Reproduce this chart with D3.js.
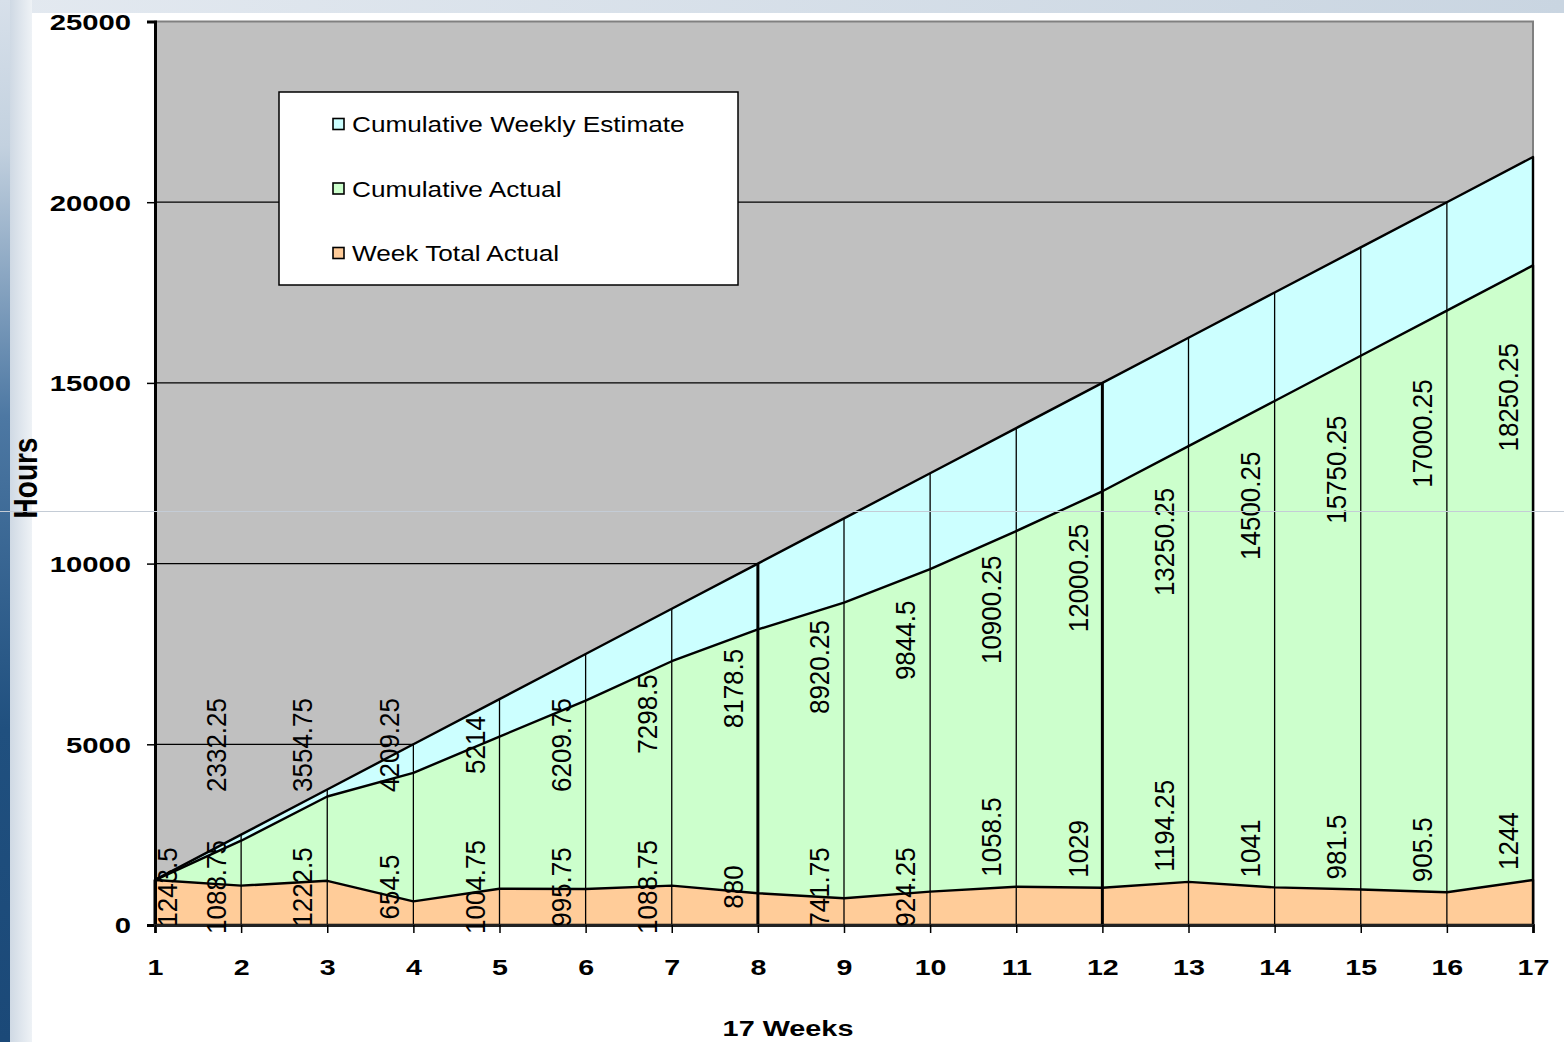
<!DOCTYPE html>
<html>
<head>
<meta charset="utf-8">
<title>Cumulative Hours by Week</title>
<script src="https://cdn.jsdelivr.net/npm/d3@7"></script>
<style>
  html, body { margin: 0; padding: 0; background: #ffffff; }
  svg { display: block; font-family: "Liberation Sans", Arial, sans-serif; }
</style>
</head>
<body>
<svg id="chart" width="1564" height="1042"></svg>
<script>
// ---- data ----
const weeks = [1, 2, 3, 4, 5, 6, 7, 8, 9, 10, 11, 12, 13, 14, 15, 16, 17];
const cumulativeWeeklyEstimate = [1250, 2500, 3750, 5000, 6250, 7500, 8750, 10000, 11250,
  12500, 13750, 15000, 16250, 17500, 18750, 20000, 21250];
const cumulativeActual = [1243.5, 2332.25, 3554.75, 4209.25, 5214, 6209.75, 7298.5, 8178.5,
  8920.25, 9844.5, 10900.25, 12000.25, 13250.25, 14500.25, 15750.25, 17000.25, 18250.25];
const weekTotalActual = [1243.5, 1088.75, 1222.5, 654.5, 1004.75, 995.75, 1088.75, 880,
  741.75, 924.25, 1058.5, 1029, 1194.25, 1041, 981.5, 905.5, 1244];
const hourTicks = [0, 5000, 10000, 15000, 20000, 25000];
const seriesNames = ["Cumulative Weekly Estimate", "Cumulative Actual", "Week Total Actual"];
const seriesColors = ["#ccffff", "#ccffcc", "#ffcc99"];

// ---- layout ----
const plot = { left: 155, right: 1533, top: 21.5, bottom: 925 };
const svg = d3.select("#chart");

const x = d3.scaleLinear().domain([1, 17]).range([plot.left, plot.right]);
const y = d3.scaleLinear().domain([0, 25000]).range([plot.bottom, plot.top]);

// ---- slide background ----
const defs = svg.append("defs");
const edge = defs.append("linearGradient").attr("id", "edgeBlue")
  .attr("x1", 0).attr("y1", 0).attr("x2", 0).attr("y2", 1);
[["0%", "#d7e0ea"], ["14%", "#c3d1df"], ["40%", "#4d78a3"], ["70%", "#20507f"], ["100%", "#1b4978"]]
  .forEach(([o, c]) => edge.append("stop").attr("offset", o).attr("stop-color", c));
const edgeSoft = defs.append("linearGradient").attr("id", "edgeSoft")
  .attr("x1", 0).attr("y1", 0).attr("x2", 1).attr("y2", 0);
[["0%", "#cfd9e4"], ["100%", "#eef2f6"]]
  .forEach(([o, c]) => edgeSoft.append("stop").attr("offset", o).attr("stop-color", c));
const topBand = defs.append("linearGradient").attr("id", "topBand")
  .attr("x1", 0).attr("y1", 0).attr("x2", 1).attr("y2", 0);
[["0%", "#e3e9f0"], ["100%", "#c9d5e1"]]
  .forEach(([o, c]) => topBand.append("stop").attr("offset", o).attr("stop-color", c));

svg.append("rect").attr("x", 0).attr("y", 0).attr("width", 1564).attr("height", 13)
  .attr("fill", "url(#topBand)");
svg.append("rect").attr("x", 10).attr("y", 0).attr("width", 22).attr("height", 1042)
  .attr("fill", "url(#edgeSoft)");
svg.append("rect").attr("x", 0).attr("y", 0).attr("width", 10).attr("height", 1042)
  .attr("fill", "url(#edgeBlue)");

// ---- plot area ----
svg.append("rect")
  .attr("x", plot.left).attr("y", plot.top)
  .attr("width", plot.right - plot.left).attr("height", plot.bottom - plot.top)
  .attr("fill", "#c0c0c0").attr("stroke", "#808080").attr("stroke-width", 2);

// horizontal gridlines (behind the areas)
svg.append("g").selectAll("line")
  .data(hourTicks.filter(t => t > 0 && t < 25000))
  .join("line")
  .attr("x1", plot.left).attr("x2", plot.right)
  .attr("y1", d => y(d)).attr("y2", d => y(d))
  .attr("stroke", "#000").attr("stroke-width", 1.2);

// overlapping areas, largest first
const areaGen = d3.area()
  .x((d, i) => x(weeks[i]))
  .y0(y(0))
  .y1(d => y(d));

const seriesValues = [cumulativeWeeklyEstimate, cumulativeActual, weekTotalActual];
svg.append("g").selectAll("path")
  .data(seriesValues)
  .join("path")
  .attr("d", d => areaGen(d))
  .attr("fill", (d, i) => seriesColors[i])
  .attr("stroke", "#000").attr("stroke-width", 2.4)
  .attr("stroke-linejoin", "round");

// drop lines from the axis to the estimate at every week
const heavyDropWeeks = [8, 12];
svg.append("g").selectAll("line")
  .data(weeks)
  .join("line")
  .attr("x1", d => x(d)).attr("x2", d => x(d))
  .attr("y1", y(0))
  .attr("y2", (d, i) => y(cumulativeWeeklyEstimate[i]))
  .attr("stroke", "#000")
  .attr("stroke-width", d => heavyDropWeeks.includes(d) ? 3 : 1.3);

// ---- axes ----
const yAxis = svg.append("g")
  .attr("transform", `translate(${plot.left},0)`)
  .call(d3.axisLeft(y).tickValues(hourTicks).tickSize(8).tickFormat(d3.format("d")));
yAxis.select(".domain").attr("stroke", "#000").attr("stroke-width", 3);
yAxis.selectAll(".tick line").attr("stroke", "#000").attr("stroke-width", 1.5);
yAxis.selectAll(".tick text")
  .attr("x", 0).attr("dy", "0.36em")
  .attr("text-anchor", "end")
  .attr("transform", "translate(-24,0) scale(1.33,1)")
  .attr("font-size", 22).attr("font-weight", "bold")
  .attr("font-family", "'Liberation Sans', Arial, sans-serif")
  .attr("fill", "#000");

const xAxis = svg.append("g")
  .attr("transform", `translate(0,${plot.bottom})`)
  .call(d3.axisBottom(x).tickValues(weeks).tickSize(8).tickFormat(d3.format("d")));
xAxis.select(".domain").attr("stroke", "#222").attr("stroke-width", 3);
xAxis.selectAll(".tick line").attr("stroke", "#000").attr("stroke-width", 1.5);
xAxis.selectAll(".tick text")
  .attr("y", 0).attr("dy", 0)
  .attr("transform", "translate(0,50) scale(1.3,1)")
  .attr("font-size", 22).attr("font-weight", "bold")
  .attr("font-family", "'Liberation Sans', Arial, sans-serif")
  .attr("fill", "#000");

// axis titles
svg.append("text")
  .attr("transform", "translate(26,478) scale(1.2,1) rotate(-90)")
  .attr("text-anchor", "middle").attr("dominant-baseline", "central")
  .attr("font-size", 28).attr("font-weight", "bold").attr("fill", "#000")
  .text("Hours");
svg.append("text")
  .attr("transform", "translate(788,1036) scale(1.31,1)")
  .attr("text-anchor", "middle")
  .attr("font-size", 22).attr("font-weight", "bold").attr("fill", "#000")
  .text("17 Weeks");

// ---- value labels (rotated) ----
const labelDx = -24;
const labelMinX = plot.left + 13;  // keep labels inside the plot
const labelFloorY = 745;           // cumulative labels stay above this line
const liftFromWeek = 11;           // weekly labels from here on sit above the orange line
const fmt = v => String(v);
const labelX = i => Math.max(x(weeks[i]) + labelDx, labelMinX);

svg.append("g").selectAll("text")
  .data(cumulativeActual)
  .join("text")
  .attr("transform", (d, i) => {
    const cy = Math.min(y(d * 0.8), labelFloorY);
    return `translate(${labelX(i)},${cy}) scale(1.05,1) rotate(-90)`;
  })
  .attr("text-anchor", "middle").attr("dominant-baseline", "central")
  .attr("font-size", 26).attr("fill", "#000")
  .text((d, i) => i === 0 ? "" : fmt(d));

svg.append("g").selectAll("text")
  .data(weekTotalActual)
  .join("text")
  .attr("transform", (d, i) => {
    const lifted = weeks[i] >= liftFromWeek;
    const cy = lifted ? y(d) - 10 : y(0) - 38;
    return `translate(${labelX(i)},${cy}) scale(1.05,1) rotate(-90)`;
  })
  .attr("text-anchor", (d, i) => weeks[i] >= liftFromWeek ? "start" : "middle")
  .attr("dominant-baseline", "central")
  .attr("font-size", 26).attr("fill", "#000")
  .text(d => fmt(d));

// ---- legend ----
const legend = svg.append("g").attr("transform", "translate(279,92)");
legend.append("rect")
  .attr("width", 459).attr("height", 193)
  .attr("fill", "#fff").attr("stroke", "#000").attr("stroke-width", 1.5);
const rows = legend.selectAll("g.row")
  .data(seriesNames)
  .join("g").attr("class", "row")
  .attr("transform", (d, i) => `translate(54,${32 + i * 64.5})`);
rows.append("rect")
  .attr("x", 0).attr("y", -5.5).attr("width", 11).attr("height", 11)
  .attr("fill", (d, i) => seriesColors[i])
  .attr("stroke", "#000").attr("stroke-width", 1.6);
rows.append("text")
  .attr("transform", "translate(19,8) scale(1.19,1)")
  .attr("font-size", 22).attr("fill", "#000")
  .text(d => d);

// faint slide rule across the page
svg.append("line")
  .attr("x1", 0).attr("x2", 1564).attr("y1", 511.5).attr("y2", 511.5)
  .attr("stroke", "#c4ccd6").attr("stroke-width", 1);
</script>
</body>
</html>
